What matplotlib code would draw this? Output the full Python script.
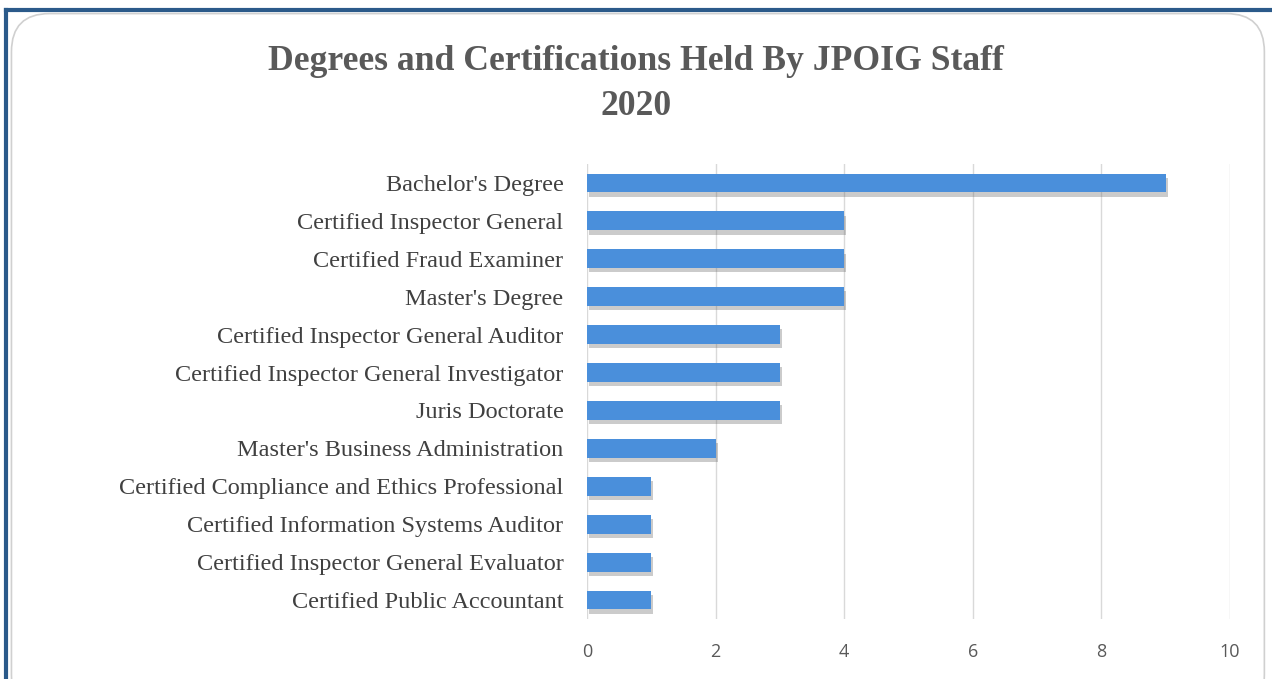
import matplotlib.pyplot as plt
import matplotlib.patheffects as pe
from matplotlib.patches import FancyBboxPatch
from matplotlib.lines import Line2D

# data (top to bottom as shown)
categories = [
    "Bachelor's Degree",
    "Certified Inspector General",
    "Certified Fraud Examiner",
    "Master's Degree",
    "Certified Inspector General Auditor",
    "Certified Inspector General Investigator",
    "Juris Doctorate",
    "Master's Business Administration",
    "Certified Compliance and Ethics Professional",
    "Certified Information Systems Auditor",
    "Certified Inspector General Evaluator",
    "Certified Public Accountant",
]
counts = [9, 4, 4, 4, 3, 3, 3, 2, 1, 1, 1, 1]
x_ticks = [0, 2, 4, 6, 8, 10]

fig = plt.figure(figsize=(12.72, 6.79), dpi=100)

# outer frame: rounded white card + dark blue edges
card = FancyBboxPatch((0.009, -0.05), 0.985, 1.03, boxstyle="round,pad=0,rounding_size=0.03",
                      transform=fig.transFigure, facecolor="white", edgecolor="#d0d0d0",
                      linewidth=1.2, mutation_aspect=1272 / 679, zorder=-5)
fig.patches.append(card)
fig.lines.append(Line2D([0.0045, 0.0045], [0, 0.985], transform=fig.transFigure,
                        color="#2b5a8a", linewidth=3, zorder=-4))
fig.lines.append(Line2D([0.0045, 1.0], [0.985, 0.985], transform=fig.transFigure,
                        color="#2b5a8a", linewidth=3, zorder=-4))

ax = fig.add_axes([0.4615, 0.0884, 0.5055, 0.670])
ax.set_facecolor("none")

y = list(range(len(categories)))
bars = ax.barh(y, counts, height=0.5, color="#4a8fdb", zorder=3)
for b in bars:
    b.set_path_effects([pe.SimplePatchShadow(offset=(1.5, -3), shadow_rgbFace="#6b6b6b", alpha=0.35),
                        pe.Normal()])

ax.set_ylim(len(categories) - 0.5, -0.5)
ax.set_xlim(0, 10)
ax.set_xticks(x_ticks)
ax.set_xticklabels([str(t) for t in x_ticks], fontfamily="Open Sans", fontsize=13, color="#595959")
ax.set_yticks(y)
ax.set_yticklabels(categories, fontfamily="Liberation Serif", fontsize=17.5, color="#404040")
ax.tick_params(axis="both", length=0)
ax.tick_params(axis="x", pad=17)
ax.tick_params(axis="y", pad=17)
ax.grid(axis="x", color="#d9d9d9", linewidth=1, zorder=0)
for s in ax.spines.values():
    s.set_visible(False)

fig.text(0.5, 0.876, "Degrees and Certifications Held By JPOIG Staff\n2020",
         ha="center", va="center", fontfamily="Liberation Serif", fontweight="bold",
         fontsize=25.7, color="#595959", linespacing=1.5)

fig.savefig("out.png", dpi=100)
